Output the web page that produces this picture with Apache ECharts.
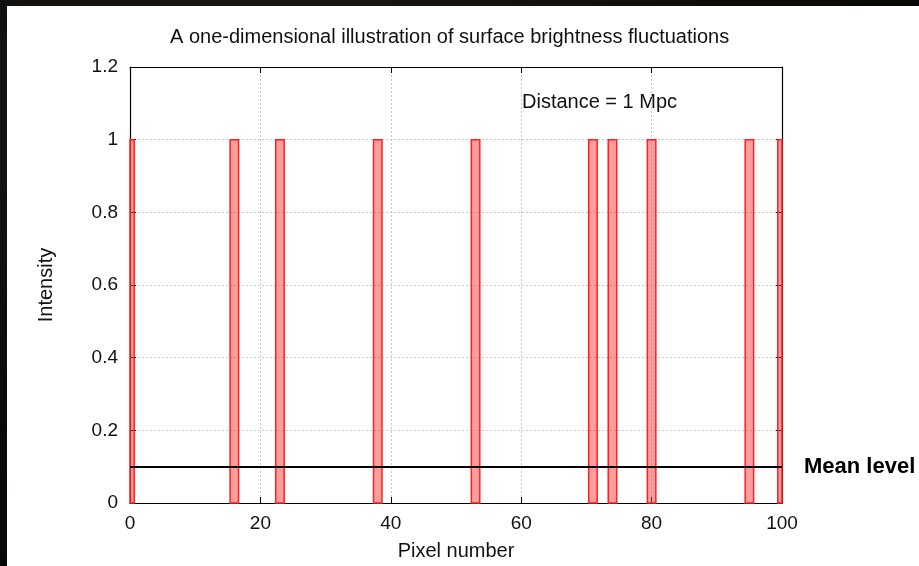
<!DOCTYPE html>
<html>
<head>
<meta charset="utf-8">
<title>Surface brightness fluctuations</title>
<script src="https://cdn.jsdelivr.net/npm/echarts@6/dist/echarts.min.js"></script>
<style>
  html, body { margin: 0; padding: 0; width: 919px; height: 566px; overflow: hidden;
    background: radial-gradient(ellipse at 30% 20%, #1c1a18 0%, #0b0a09 60%, #050505 100%); }
  #chart { position: absolute; left: 7px; top: 6px; width: 912px; height: 560px; background: #ffffff; }
</style>
</head>
<body>
<div id="chart"></div>
<script>
// Pixels that happen to contain a bright star (intensity 1)
const pixelPositions = [0, 16, 23, 38, 53, 71, 74, 80, 95, 100];
const pixelIntensity = [1, 1, 1, 1, 1, 1, 1, 1, 1, 1];
const meanLevel = 0.1;
const xTicks = [0, 20, 40, 60, 80, 100];
const yTicks = [0, 0.2, 0.4, 0.6, 0.8, 1, 1.2];
const boxWidth = 1.3; // box width in pixel-number units

const font = 'Liberation Sans, Arial, Helvetica, sans-serif';
const chart = echarts.init(document.getElementById('chart'));

const starData = pixelPositions.map((x, i) => [x, pixelIntensity[i]]);

const commonAxisLine = { show: true, onZero: false, lineStyle: { color: '#000', width: 1.2 } };
const commonTick = { show: true, inside: true, length: 6, lineStyle: { color: '#000', width: 1 } };
const gridLine = { show: true, lineStyle: { color: '#c8c8c8', type: [2, 2], width: 1 } };

// Boxes centred on each pixel, clipped to the plotting area
function renderBox(params, api) {
  const x = api.value(0), y = api.value(1);
  const p0 = api.coord([x - boxWidth / 2, y]);
  const p1 = api.coord([x + boxWidth / 2, 0]);
  const rect = echarts.graphic.clipRectByRect(
    { x: p0[0], y: p0[1], width: p1[0] - p0[0], height: p1[1] - p0[1] },
    { x: params.coordSys.x, y: params.coordSys.y, width: params.coordSys.width, height: params.coordSys.height }
  );
  if (!rect) return;
  return {
    type: 'rect',
    shape: rect,
    style: { fill: 'rgba(255, 60, 60, 0.5)', stroke: '#ff2020', lineWidth: 1.5 }
  };
}

chart.setOption({
  animation: false,
  title: {
    text: 'A one-dimensional illustration of surface brightness fluctuations',
    left: 158, top: 16,
    textStyle: { fontFamily: font, fontSize: 20, fontWeight: 'normal', color: '#111' }
  },
  grid: { left: 123, right: 137, top: 61, bottom: 61, containLabel: false },
  xAxis: [{
    type: 'value', min: xTicks[0], max: xTicks[xTicks.length - 1], interval: 20,
    name: 'Pixel number', nameLocation: 'middle', nameGap: 38,
    nameTextStyle: { fontFamily: font, fontSize: 20, color: '#111' },
    axisLine: commonAxisLine, axisTick: commonTick,
    axisLabel: { fontFamily: font, fontSize: 19, color: '#111', margin: 11 },
    splitLine: gridLine
  }, {
    type: 'value', position: 'top', min: 0, max: 100, interval: 20,
    axisLine: commonAxisLine, axisTick: commonTick,
    axisLabel: { show: false }, splitLine: { show: false }
  }],
  yAxis: [{
    type: 'value', min: yTicks[0], max: yTicks[yTicks.length - 1], interval: 0.2,
    name: 'Intensity', nameLocation: 'middle', nameGap: 74, nameRotate: 90,
    nameTextStyle: { fontFamily: font, fontSize: 20, color: '#111' },
    axisLine: commonAxisLine, axisTick: commonTick,
    axisLabel: { fontFamily: font, fontSize: 19, color: '#111', margin: 12 },
    splitLine: gridLine
  }, {
    type: 'value', position: 'right', min: 0, max: 1.2, interval: 0.2,
    axisLine: commonAxisLine, axisTick: commonTick,
    axisLabel: { show: false }, splitLine: { show: false }
  }],
  series: [{
    name: 'Stars',
    type: 'custom',
    xAxisIndex: 0, yAxisIndex: 0,
    data: starData,
    renderItem: renderBox,
    encode: { x: 0, y: 1 },
    z: 3
  }, {
    name: 'Mean',
    type: 'line',
    xAxisIndex: 0, yAxisIndex: 0,
    data: [],
    z: 4,
    markLine: {
      silent: true,
      symbol: 'none',
      lineStyle: { color: '#000', width: 2.2, type: 'solid' },
      label: {
        show: true, position: 'end', distance: 22, formatter: 'Mean level',
        fontFamily: font, fontSize: 22, fontWeight: 'bold', color: '#000'
      },
      data: [[{ coord: [0, meanLevel] }, { coord: [100, meanLevel] }]]
    }
  }],
  graphic: [{
    type: 'text', left: 515, top: 86,
    style: { text: 'Distance = 1 Mpc', font: '20px ' + font, fill: '#111' }
  }]
});
</script>
</body>
</html>
